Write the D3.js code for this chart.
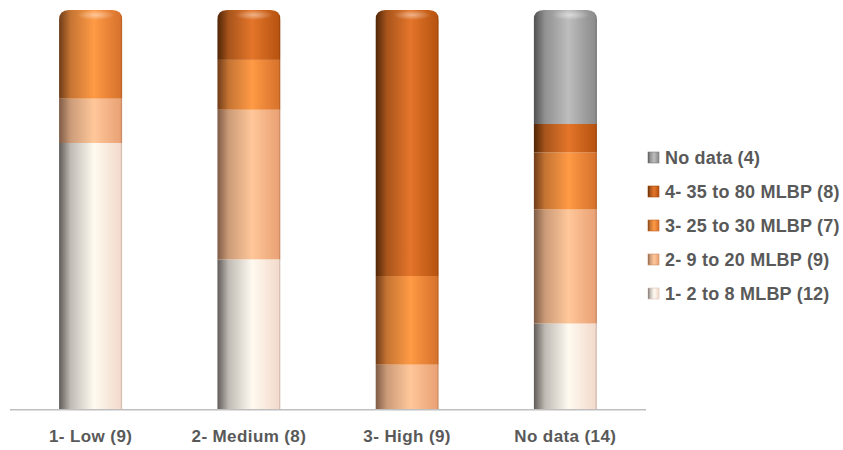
<!DOCTYPE html>
<html><head><meta charset="utf-8">
<script src="https://cdn.jsdelivr.net/npm/d3@7"></script>
<style>body{margin:0;background:#fff}svg{display:block}</style>
</head><body>
<script>
const categories = ["1- Low (9)", "2- Medium (8)", "3- High (9)", "No data (14)"];
const seriesNames = ["1- 2 to 8 MLBP (12)", "2- 9 to 20 MLBP (9)", "3- 25 to 30 MLBP (7)", "4- 35 to 80 MLBP (8)", "No data (4)"];
const s1 = [6, 3, 0, 3];
const s2 = [1, 3, 1, 4];
const s3 = [2, 1, 2, 2];
const s4 = [0, 1, 6, 1];
const sND = [0, 0, 0, 4];
const seriesValues = [s1, s2, s3, s4, sND];
// gradient stops per series: [left, mid, right]
const seriesColors = [
  ["#5f5a57", "#fffaf0", "#f2d9cb"],
  ["#7d5a45", "#ffc79a", "#e8a073"],
  ["#6e3b18", "#ff9a45", "#d5712b"],
  ["#4e2406", "#e4752a", "#b5520f"],
  ["#4f4f4f", "#bdbdbd", "#8a8a8a"]
];

const W = 843, H = 450;
const svg = d3.select("body").append("svg").attr("width", W).attr("height", H);
const defs = svg.append("defs");
seriesColors.forEach((c, i) => {
  const g = defs.append("linearGradient").attr("id", "g" + i).attr("x1", 0).attr("x2", 1).attr("y1", 0).attr("y2", 0);
  g.append("stop").attr("offset", 0).attr("stop-color", c[0]);
  g.append("stop").attr("offset", 0.18).attr("stop-color", d3.interpolateRgb(c[0], c[1])(0.6));
  g.append("stop").attr("offset", 0.55).attr("stop-color", c[1]);
  g.append("stop").attr("offset", 0.85).attr("stop-color", d3.interpolateRgb(c[1], c[2])(0.7));
  g.append("stop").attr("offset", 1).attr("stop-color", c[2]);
});
const hl = defs.append("radialGradient").attr("id", "hl");
hl.append("stop").attr("offset", 0).attr("stop-color", "#fff").attr("stop-opacity", 0.45);
hl.append("stop").attr("offset", 1).attr("stop-color", "#fff").attr("stop-opacity", 0);

const x0 = 10, x1 = 646, yTop = 10, yBot = 409;
const x = d3.scaleBand().domain(categories).range([x0, x1]).paddingInner(0.6).paddingOuter(0.31);
const y = d3.scaleLinear().domain([0, 1]).range([yBot, yTop]);

const table = categories.map((c, ci) => {
  const o = { cat: c };
  const tot = d3.sum(seriesValues, s => s[ci]);
  seriesNames.forEach((n, si) => o[n] = seriesValues[si][ci] / tot);
  return o;
});
const stacked = d3.stack().keys(seriesNames)(table);

const bw = x.bandwidth();
const r = 10;
categories.forEach((c, ci) => {
  const xl = x(c), xr = xl + bw;
  defs.append("clipPath").attr("id", "clip" + ci).append("path")
    .attr("d", `M${xl},${yBot} L${xl},${y(1) + r} Q${xl},${y(1)} ${xl + r},${y(1)} L${xr - r},${y(1)} Q${xr},${y(1)} ${xr},${y(1) + r} L${xr},${yBot} Z`);
});

const bars = svg.append("g");
categories.forEach((c, ci) => {
  const g = bars.append("g").attr("clip-path", `url(#clip${ci})`);
  stacked.forEach((layer, si) => {
    const d = layer[ci];
    if (d[1] - d[0] <= 0) return;
    g.append("rect").attr("x", x(c)).attr("width", bw)
      .attr("y", y(d[1])).attr("height", y(d[0]) - y(d[1]))
      .attr("fill", `url(#g${si})`);
  });
  g.append("ellipse").attr("cx", x(c) + bw * 0.58).attr("cy", y(1) + 5).attr("rx", bw * 0.3).attr("ry", 5).attr("fill", "url(#hl)");
  g.append("rect").attr("x", x(c) + bw - 1.5).attr("width", 1.5).attr("y", y(1)).attr("height", yBot - y(1)).attr("fill", "#000").attr("opacity", 0.12);
});

svg.append("line").attr("x1", x0).attr("x2", x1).attr("y1", yBot + 0.75).attr("y2", yBot + 0.75)
  .attr("stroke", "#bfbfbf").attr("stroke-width", 1.5);

const axis = d3.axisBottom(x).tickSize(0).tickPadding(0);
const ax = svg.append("g").attr("transform", `translate(0,${yBot + 21})`).call(axis);
ax.select(".domain").remove();
ax.selectAll("text").attr("font-family", "Liberation Sans, Arial, sans-serif").attr("font-weight", "bold")
  .attr("font-size", 17).attr("letter-spacing", 0.4).attr("fill", "#595959").attr("dy", "0.71em");

const leg = svg.append("g");
const legOrder = [4, 3, 2, 1, 0];
legOrder.forEach((si, k) => {
  const yy = 158 + k * 34;
  leg.append("rect").attr("x", 648).attr("y", yy - 6).attr("width", 11).attr("height", 11)
    .attr("fill", `url(#g${si})`).attr("stroke", d3.color(seriesColors[si][2]).darker(0.3)).attr("stroke-width", 0.6);
  leg.append("text").attr("x", 665).attr("y", yy).attr("dy", "0.35em")
    .attr("font-family", "Liberation Sans, Arial, sans-serif").attr("font-weight", "bold")
    .attr("font-size", 18).attr("letter-spacing", 0.2).attr("fill", "#595959").text(seriesNames[si]);
});
</script>
</body></html>
